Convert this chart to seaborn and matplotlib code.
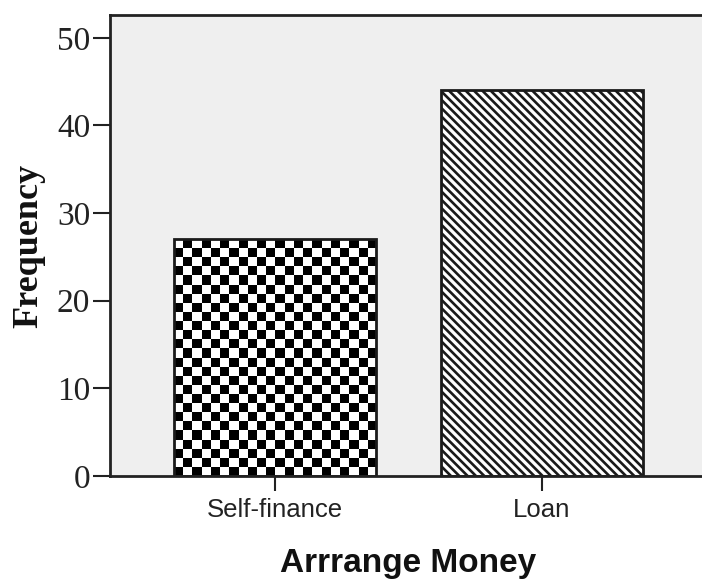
import numpy as np
import seaborn as sns
import matplotlib.pyplot as plt

categorias = ["Self-finance", "Loan"]
frequencias = [27, 44]
y_ticks = [0, 10, 20, 30, 40, 50]

sns.set_style("white")
plt.rcParams["hatch.linewidth"] = 1.9

fig = plt.figure(figsize=(7.02, 5.79), dpi=100)
ax = fig.add_axes([110 / 702, 1 - 476 / 579, 597 / 702, 461 / 579])
ax.set_facecolor("#efefef")

sns.barplot(x=categorias, y=frequencias, order=categorias, width=0.757,
            color="white", edgecolor="#1a1a1a", linewidth=2, saturation=1, ax=ax)

ax.set_xlim(-0.618, 1.618)
ax.set_ylim(0, 52.6)
ax.set_yticks(y_ticks)

# listras diagonais no segundo bar
ax.patches[1].set_hatch("\\\\\\\\")

# xadrez no primeiro bar (imagem recortada pelo retangulo)
fig.canvas.draw()
p = ax.patches[0]
bb = p.get_window_extent()
nx = max(1, int(round(bb.width / 9)))
ny = max(1, int(round(bb.height / 9)))
ii, jj = np.indices((ny, nx))
xadrez = ((ii + jj) % 2 == 0).astype(float)
im = ax.imshow(1 - xadrez, cmap="gray", vmin=0, vmax=1, interpolation="nearest",
               extent=(p.get_x(), p.get_x() + p.get_width(), 0, p.get_height()),
               aspect="auto", origin="lower", zorder=p.get_zorder() + 0.1)
im.set_clip_path(p)
p.set_zorder(p.get_zorder() + 0.2)
p.set_facecolor("none")
ax.set_xlim(-0.618, 1.618)
ax.set_ylim(0, 52.6)

for lado in ["top", "left", "bottom"]:
    ax.spines[lado].set_color("#222222")
    ax.spines[lado].set_linewidth(2)
ax.spines["right"].set_visible(False)

ax.tick_params(axis="y", left=True, direction="out", length=12.2, width=1.5,
               pad=2, color="#222222")
ax.tick_params(axis="x", bottom=True, direction="out", length=10.8, width=1.5,
               pad=5, color="#222222")
for t in ax.get_yticklabels():
    t.set_fontfamily("Liberation Serif")
    t.set_fontsize(24)
    t.set_color("#222222")
for t in ax.get_xticklabels():
    t.set_fontfamily("Liberation Sans")
    t.set_fontsize(18.5)
    t.set_color("#222222")

ax.set_ylabel("Frequency", fontfamily="Liberation Serif", fontweight="bold",
              fontsize=26, labelpad=8, color="#111111")
ax.set_xlabel("Arrrange Money", fontfamily="Liberation Sans", fontweight="bold",
              fontsize=24, labelpad=19, color="#111111")

plt.savefig("out.png", dpi=100)
